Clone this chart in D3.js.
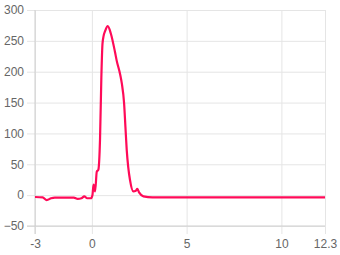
<!DOCTYPE html>
<html>
<head>
<meta charset="utf-8">
<script src="https://cdn.jsdelivr.net/npm/d3@7"></script>
<style>
  body { margin: 0; background: #fff; }
  text { font-family: "Liberation Sans", Arial, sans-serif; font-size: 12px; fill: #666; }
</style>
</head>
<body>
<div class="chart"></div>
<script>
const svgWidth = 340;
const svgHeight = 255;

const xValues = [-3, -2.6, -2.38, -2.15, -1.95, -1.2, -0.95, -0.75, -0.55, -0.4, -0.25, -0.05, 0.03, 0.09, 0.17, 0.26, 0.34, 0.43, 0.5, 0.56, 0.62, 0.7, 0.84, 1.0, 1.22, 1.31, 1.49, 1.58, 1.7, 1.77, 1.84, 1.92, 2.01, 2.19, 2.32, 2.4, 2.5, 2.72, 3.2, 5, 8, 10, 12.3];
const yValues = [-3, -3.5, -8, -5, -4, -4, -4, -6, -5, -2, -5, -5, 0, 17, 6, 38, 41, 90, 190, 245, 258, 266, 274, 262, 232, 218, 196, 181, 149, 111, 73, 45, 25, 6, 7, 10, 4, -2, -3.5, -3.5, -3.5, -3.5, -3.5];

const xTicks = [-3, 0, 5, 10, 12.3];
const yTicks = [-50, 0, 50, 100, 150, 200, 250, 300];

const margin = { top: 10, right: 15, bottom: 29, left: 35 };
const width = svgWidth - margin.left - margin.right;
const height = svgHeight - margin.top - margin.bottom;

const svg = d3.select('.chart')
  .append('svg')
  .attr('width', svgWidth)
  .attr('height', svgHeight);

const chartGroup = svg.append('g')
  .attr('transform', `translate(${margin.left}, ${margin.top})`);

const xScale = d3.scaleLinear().domain([-3, 12.3]).range([0, width]);
const yScale = d3.scaleLinear().domain([-50, 300]).range([height, 0]);

// grid + ticks
const yAxis = d3.axisLeft(yScale)
  .tickValues(yTicks)
  .tickSize(-width)
  .tickPadding(3);
chartGroup.append('g')
  .call(yAxis)
  .call(g => g.select('.domain').remove())
  .call(g => g.selectAll('.tick line').attr('x1', -8).attr('stroke', '#e5e5e5'))
  .call(g => g.selectAll('.tick text').attr('x', -11).attr('fill', '#666').style('font-size', '12px'));

const xAxis = d3.axisBottom(xScale)
  .tickValues(xTicks)
  .tickFormat(d => d)
  .tickSize(-height);
chartGroup.append('g')
  .attr('transform', `translate(0, ${height})`)
  .call(xAxis)
  .call(g => g.select('.domain').remove())
  .call(g => g.selectAll('.tick line').attr('y1', 8).attr('stroke', '#e5e5e5'))
  .call(g => g.selectAll('.tick text').attr('y', 13).attr('dy', '0.71em').attr('fill', '#666').style('font-size', '12px'));

// axis lines
chartGroup.append('line')
  .attr('x1', 0).attr('x2', 0).attr('y1', 0).attr('y2', height + 8)
  .attr('stroke', '#cfcfcf');
chartGroup.append('line')
  .attr('x1', -8).attr('x2', width).attr('y1', height).attr('y2', height)
  .attr('stroke', '#cfcfcf');

const data = xValues.map((x, i) => ({ x: x, y: yValues[i] }));

const line = d3.line()
  .x(d => xScale(d.x))
  .y(d => yScale(d.y))
  .curve(d3.curveMonotoneX);

chartGroup.append('path')
  .datum(data)
  .attr('fill', 'none')
  .attr('stroke', '#ff0a58')
  .attr('stroke-width', 2.2)
  .attr('stroke-linejoin', 'round')
  .attr('d', line);
</script>
</body>
</html>
